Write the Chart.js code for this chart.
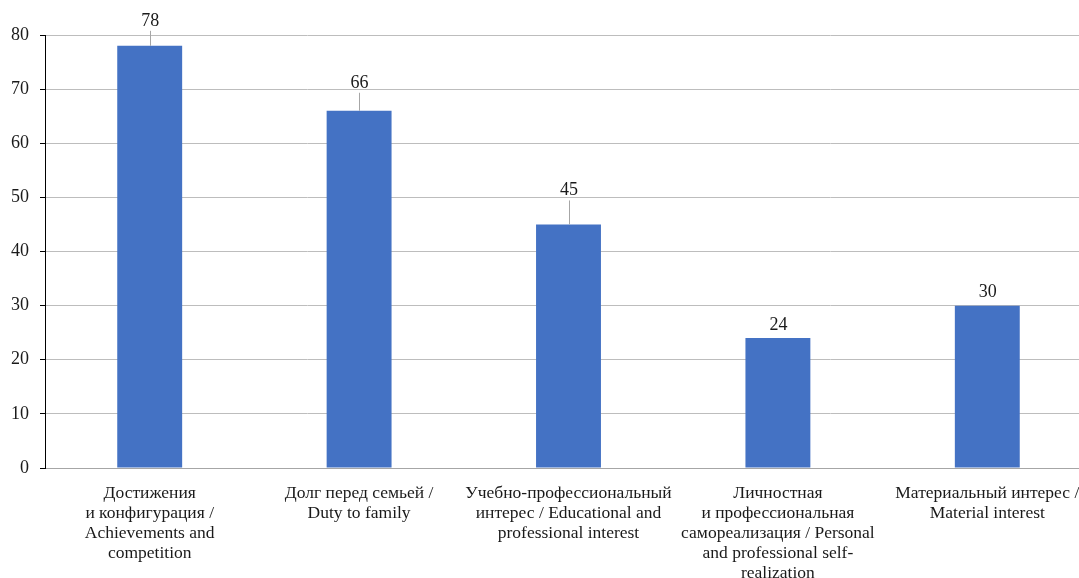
<!DOCTYPE html>
<html>
<head>
<meta charset="utf-8">
<script src="https://cdn.jsdelivr.net/npm/chart.js@4.4.1/dist/chart.umd.min.js"></script>
<style>
  html, body { margin: 0; padding: 0; background: #fff; overflow: hidden; }
  #wrap { width: 1092px; height: 578px; }
</style>
</head>
<body>
<div id="wrap"><canvas id="chart" width="1092" height="578"></canvas></div>
<script>
const categories = [
    ['Достижения', 'и конфигурация /', 'Achievements and', 'competition'],
    ['Долг перед семьей /', 'Duty to family'],
    ['Учебно-профессиональный', 'интерес / Educational and', 'professional interest'],
    ['Личностная', 'и профессиональная', 'самореализация / Personal', 'and professional self-', 'realization'],
    ['Материальный интерес /', 'Material interest']
]
const values = [78, 66, 45, 24, 30]
const yTicks = [0, 10, 20, 30, 40, 50, 60, 70, 80]

// how far above the bar each value label sits (px), longer ones get a leader line
const labelLift = [25, 28, 34, 13, 13]

const fontFamily = '"Liberation Serif", "Times New Roman", serif'
const textColor = '#1a1a1a'

const valueLabels = {
    id: 'valueLabels',
    afterDatasetsDraw(chart) {
        const ctx = chart.ctx
        const meta = chart.getDatasetMeta(0)
        ctx.save()
        ctx.font = '18px ' + fontFamily
        ctx.fillStyle = textColor
        ctx.textAlign = 'center'
        ctx.textBaseline = 'middle'
        meta.data.forEach((bar, i) => {
            const lift = labelLift[i]
            const ty = bar.y - lift
            ctx.fillText(String(values[i]), bar.x + 0.5, ty)
            if (lift > 20) {
                ctx.strokeStyle = '#a6a6a6'
                ctx.lineWidth = 1
                ctx.beginPath()
                ctx.moveTo(Math.round(bar.x) + 0.5, ty + 10)
                ctx.lineTo(Math.round(bar.x) + 0.5, bar.y)
                ctx.stroke()
            }
        })
        ctx.restore()
    }
}

const ctx = document.getElementById('chart').getContext('2d')

new Chart(ctx, {
    type: 'bar',
    data: {
        labels: categories,
        datasets: [{
            data: values,
            backgroundColor: '#4472C4',
            borderWidth: 0,
            barPercentage: 0.31,
            categoryPercentage: 1
        }]
    },
    options: {
        responsive: false,
        animation: false,
        layout: { padding: { top: 35, left: 0, right: 0, bottom: 0 } },
        plugins: {
            legend: { display: false },
            tooltip: { enabled: false }
        },
        scales: {
            x: {
                grid: { display: false },
                border: { display: true, color: '#a6a6a6', width: 1 },
                ticks: {
                    maxRotation: 0,
                    autoSkip: false,
                    padding: 7,
                    color: textColor,
                    font: { family: fontFamily, size: 17.5, lineHeight: '20px' }
                },
                afterFit(scale) { scale.height = 110 }
            },
            y: {
                min: 0,
                max: 80,
                afterBuildTicks(scale) { scale.ticks = yTicks.map(v => ({ value: v })) },
                grid: {
                    color: '#bdbdbd',
                    lineWidth: 1,
                    tickLength: 5,
                    tickColor: '#000'
                },
                border: { display: true, color: '#000', width: 1 },
                ticks: {
                    padding: 11,
                    color: textColor,
                    font: { family: fontFamily, size: 18 }
                },
                afterFit(scale) { scale.width = 45 }
            }
        }
    },
    plugins: [valueLabels]
})
</script>
</body>
</html>
